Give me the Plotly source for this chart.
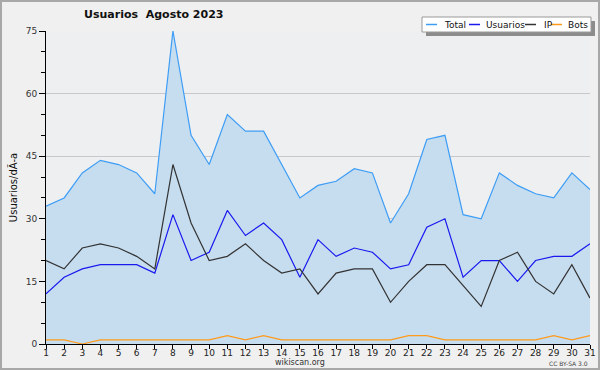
import plotly.graph_objects as go

days = list(range(1, 32))
total = [33, 35, 41, 44, 43, 41, 36, 75, 50, 43, 55, 51, 51, 43, 35, 38, 39, 42, 41, 29,
         36, 49, 50, 31, 30, 41, 38, 36, 35, 41, 37]
usuarios = [12, 16, 18, 19, 19, 19, 17, 31, 20, 22, 32, 26, 29, 25, 16, 25, 21, 23, 22, 18,
            19, 28, 30, 16, 20, 20, 15, 20, 21, 21, 24]
ip = [20, 18, 23, 24, 23, 21, 18, 43, 29, 20, 21, 24, 20, 17, 18, 12, 17, 18, 18, 10,
      15, 19, 19, 14, 9, 20, 22, 15, 12, 19, 11]
bots = [1, 1, 0, 1, 1, 1, 1, 1, 1, 1, 2, 1, 2, 1, 1, 1, 1, 1, 1, 1,
        2, 2, 1, 1, 1, 1, 1, 1, 2, 1, 2]
series_names = ["Total", "Usuarios", "IP", "Bots"]
series_colors = ["#3d9df5", "#1a1aee", "#333333", "#ff9a1a"]
y_ticks = [0, 15, 30, 45, 60, 75]

W, H = 600, 370
L, R, T, B = 46, 10, 31, 26
pw, ph = W - L - R, H - T - B

def px(x):
    return (x - L) / pw

def py(y):
    return (H - B - y) / ph

fig = go.Figure()
fig.add_trace(go.Scatter(x=days, y=total, mode="lines", fill="tozeroy",
                         fillcolor="#c6ddf0", line=dict(color=series_colors[0], width=1.2),
                         name=series_names[0]))
fig.add_trace(go.Scatter(x=days, y=usuarios, mode="lines",
                         line=dict(color=series_colors[1], width=1.2), name=series_names[1]))
fig.add_trace(go.Scatter(x=days, y=ip, mode="lines",
                         line=dict(color=series_colors[2], width=1.2), name=series_names[2]))
fig.add_trace(go.Scatter(x=days, y=bots, mode="lines",
                         line=dict(color=series_colors[3], width=1.2), name=series_names[3]))

font_family = "DejaVu Sans, Verdana, sans-serif"

fig.update_layout(
    width=W, height=H,
    margin=dict(l=L, r=R, t=T, b=B, pad=0, autoexpand=False),
    paper_bgcolor="#f0f0f0",
    plot_bgcolor="#eeeff1",
    showlegend=False,
    hovermode=False,
    font=dict(family=font_family, size=9, color="#333333"),
    xaxis=dict(range=[1, 31], tickvals=days, ticktext=[str(d) for d in days],
               ticks="outside", ticklen=4, tickcolor="#000", showline=True,
               linecolor="#000", linewidth=1, showgrid=False, zeroline=False,
               automargin=False, ticklabelstandoff=-4,
               tickfont=dict(size=9, color="#222")),
    yaxis=dict(range=[0, 75], tickvals=y_ticks, ticks="outside", ticklen=6,
               tickcolor="#000", showline=True, linecolor="#000", linewidth=1,
               showgrid=True, gridcolor="#c8c8cc", gridwidth=1, zeroline=False,
               automargin=False, tickfont=dict(size=9, color="#333"),
               minor=dict(dtick=5, tick0=0, ticks="outside", ticklen=4, tickcolor="#000",
                          showgrid=False),
               title=dict(text="Usuarios/dÃ-a", font=dict(size=10, color="#111"), standoff=6)),
)

shapes = []
annotations = []
# outer border
shapes.append(dict(type="rect", xref="paper", yref="paper",
                   x0=px(1), x1=px(W - 1), y0=py(H - 1), y1=py(1),
                   line=dict(color="#a8a8a8", width=2), fillcolor="rgba(0,0,0,0)", layer="below"))

# title
annotations.append(dict(text="<b>Usuarios  Agosto 2023</b>", xref="paper", yref="paper",
                        x=px(153), y=py(14), showarrow=False, xanchor="center", yanchor="middle",
                        font=dict(size=11, color="#111", family=font_family)))

# legend box with shadow
lx0, lx1, ly0, ly1 = 422, 591, 17, 32
shapes.append(dict(type="rect", xref="paper", yref="paper",
                   x0=px(lx0 + 4), x1=px(lx1 + 4), y0=py(ly1 + 4), y1=py(ly0 + 4),
                   line=dict(width=0), fillcolor="#8c8c8c"))
shapes.append(dict(type="rect", xref="paper", yref="paper",
                   x0=px(lx0), x1=px(lx1), y0=py(ly1), y1=py(ly0),
                   line=dict(color="#999999", width=1), fillcolor="#ffffff"))
leg_line_x = [426, 469, 525, 551]
leg_text_x = [442, 484, 542, 566]
ymid = 24.5
for name, col, lxp, txp in zip(series_names, series_colors, leg_line_x, leg_text_x):
    shapes.append(dict(type="line", xref="paper", yref="paper",
                       x0=px(lxp), x1=px(lxp + 11), y0=py(ymid), y1=py(ymid),
                       line=dict(color=col, width=1.5)))
    annotations.append(dict(text=name, xref="paper", yref="paper", x=px(txp), y=py(ymid),
                            showarrow=False, xanchor="left", yanchor="middle",
                            font=dict(size=9, color="#111", family=font_family)))

# footers
annotations.append(dict(text="wikiscan.org", xref="paper", yref="paper", x=px(300), y=py(362),
                        showarrow=False, xanchor="center", yanchor="middle",
                        font=dict(size=8, color="#333", family=font_family)))
annotations.append(dict(text="CC BY-SA 3.0", xref="paper", yref="paper", x=px(590), y=py(363),
                        showarrow=False, xanchor="right", yanchor="middle",
                        font=dict(size=6, color="#444", family=font_family)))

fig.update_layout(shapes=shapes, annotations=annotations)
fig.write_html("out.html", config={"displayModeBar": False},
               post_script="document.body.style.margin='0';document.body.style.overflow='hidden';")
